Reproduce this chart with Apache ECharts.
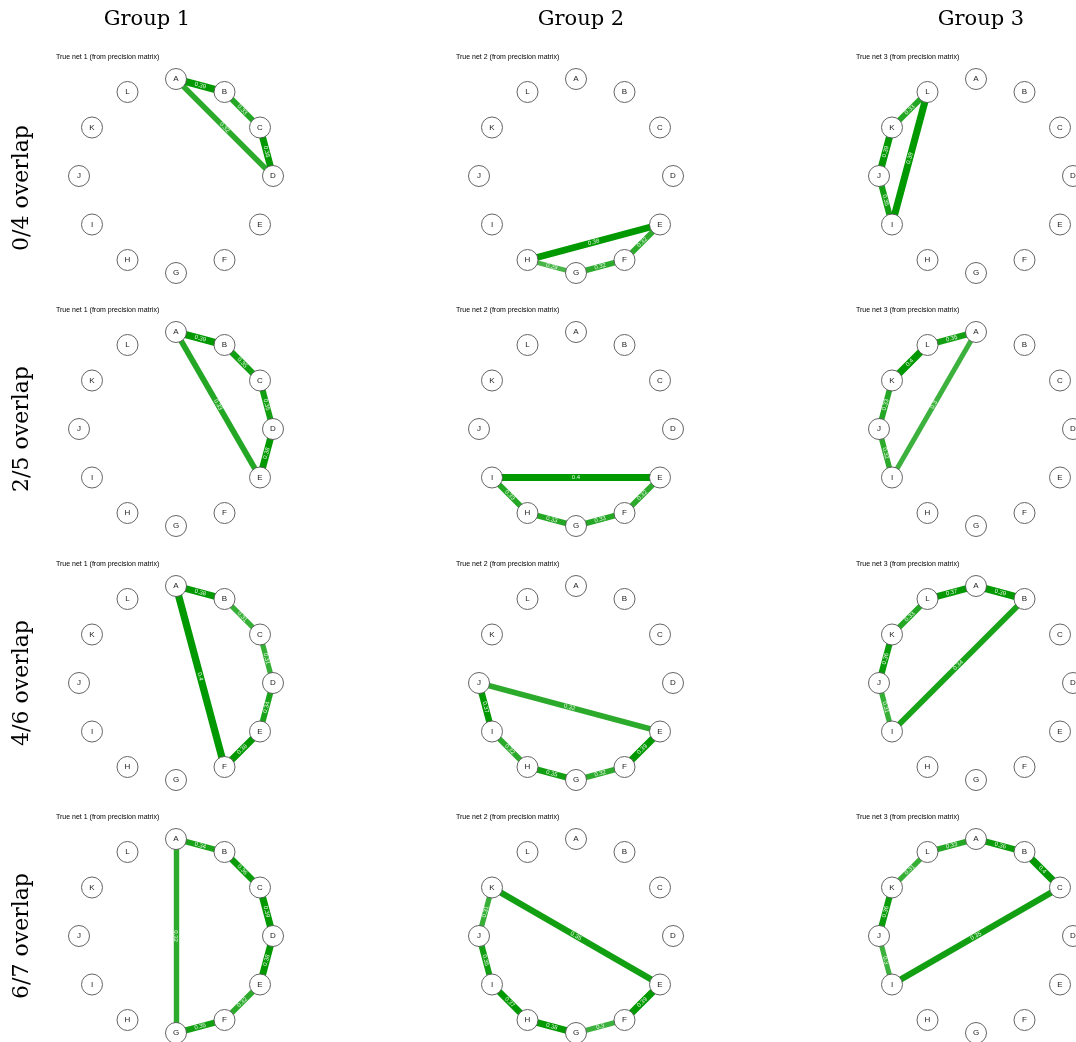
<!DOCTYPE html>
<html>
<head>
<meta charset="utf-8">
<script src="https://cdn.jsdelivr.net/npm/echarts@6/dist/echarts.min.js"></script>
<style>
  html, body { margin: 0; padding: 0; background: #fff; }
  #main { width: 1076px; height: 1042px; }
</style>
</head>
<body>
<div id="main"></div>
<script>
// nodes on the circle, clockwise from the top
const nodes = ['A', 'B', 'C', 'D', 'E', 'F', 'G', 'H', 'I', 'J', 'K', 'L'];
const groups = ['Group 1', 'Group 2', 'Group 3'];
const rows = ['0/4 overlap', '2/5 overlap', '4/6 overlap', '6/7 overlap'];

// edges: [from, to, partial correlation]
const net_0_g1 = [['A','B',0.39], ['B','C',0.33], ['C','D',0.38], ['A','D',0.32]];
const net_0_g2 = [['E','F',0.32], ['F','G',0.32], ['G','H',0.29], ['E','H',0.38]];
const net_0_g3 = [['I','J',0.35], ['J','K',0.39], ['K','L',0.33], ['I','L',0.39]];

const net_2_g1 = [['A','B',0.39], ['B','C',0.35], ['C','D',0.35], ['D','E',0.38], ['A','E',0.33]];
const net_2_g2 = [['E','F',0.32], ['F','G',0.33], ['G','H',0.33], ['H','I',0.33], ['E','I',0.4]];
const net_2_g3 = [['I','J',0.32], ['J','K',0.33], ['K','L',0.4], ['L','A',0.35], ['A','I',0.3]];

const net_4_g1 = [['A','B',0.38], ['B','C',0.31], ['C','D',0.31], ['D','E',0.34], ['E','F',0.38], ['A','F',0.4]];
const net_4_g2 = [['E','F',0.39], ['F','G',0.32], ['G','H',0.35], ['H','I',0.32], ['I','J',0.37], ['E','J',0.32]];
const net_4_g3 = [['I','J',0.31], ['J','K',0.36], ['K','L',0.33], ['L','A',0.37], ['A','B',0.39], ['B','I',0.34]];

const net_6_g1 = [['A','B',0.34], ['B','C',0.36], ['C','D',0.39], ['D','E',0.38], ['E','F',0.32], ['F','G',0.35], ['A','G',0.32]];
const net_6_g2 = [['E','F',0.39], ['F','G',0.3], ['G','H',0.38], ['H','I',0.37], ['I','J',0.35], ['J','K',0.31], ['E','K',0.35]];
const net_6_g3 = [['I','J',0.3], ['J','K',0.36], ['K','L',0.31], ['L','A',0.33], ['A','B',0.36], ['B','C',0.4], ['C','I',0.35]];

const nets = [
  [net_0_g1, net_0_g2, net_0_g3],
  [net_2_g1, net_2_g2, net_2_g3],
  [net_4_g1, net_4_g2, net_4_g3],
  [net_6_g1, net_6_g2, net_6_g3]
];

const colX = [176, 576, 976];
const rowY = [176, 429, 683, 936];
const R = 97;

// stronger edge -> darker and wider, like qgraph
function edgeColor(w) {
  let a = 0.72 + (w - 0.29) * 3.5;
  a = Math.max(0.7, Math.min(1, a));
  return 'rgba(0,153,0,' + a.toFixed(2) + ')';
}
function edgeWidth(w) {
  return 4.8 + (w - 0.29) * 22;
}

const chart = echarts.init(document.getElementById('main'), null, {renderer: 'canvas'});

let polar = [], angleAxis = [], radiusAxis = [], series = [], title = [], graphic = [];

groups.forEach((g, j) => {
  title.push({
    text: g, left: colX[j] - (j === 0 ? 34 : 0), top: 4, textAlign: 'center',
    textStyle: {fontFamily: 'DejaVu Serif', fontWeight: 'normal', fontSize: 21, color: '#000'}
  });
});

rows.forEach((r, i) => {
  graphic.push({
    type: 'text', x: 22, y: rowY[i] + (i === 0 ? 12 : 0), rotation: Math.PI / 2,
    style: {
      text: r, fill: '#000', font: '22px "DejaVu Serif"',
      textAlign: 'center', textVerticalAlign: 'middle'
    }
  });
});

nets.forEach((rowNets, i) => {
  rowNets.forEach((edges, j) => {
    const k = polar.length;
    polar.push({center: [colX[j], rowY[i]], radius: R});
    angleAxis.push({
      polarIndex: k, type: 'category', data: nodes, startAngle: 90, clockwise: true,
      boundaryGap: false, show: false
    });
    radiusAxis.push({polarIndex: k, type: 'value', min: 0, max: 1, show: false});
    title.push({
      text: 'True net ' + (j + 1) + ' (from precision matrix)',
      left: colX[j] - 120, top: rowY[i] - 122, padding: 0,
      textStyle: {fontFamily: 'Liberation Sans', fontWeight: 'normal', fontSize: 7, color: '#000'}
    });
    series.push({
      type: 'graph',
      coordinateSystem: 'polar',
      polarIndex: k,
      silent: true,
      symbol: 'circle',
      symbolSize: 21,
      itemStyle: {color: '#fff', borderColor: '#555', borderWidth: 0.9},
      label: {show: true, position: 'inside', fontSize: 8, color: '#222', fontFamily: 'Liberation Sans'},
      lineStyle: {opacity: 1, curveness: 0},
      edgeLabel: {
        show: true, position: 'insideMiddle', distance: 0, fontSize: 6, color: '#e4f6e4',
        fontFamily: 'Liberation Sans',
        formatter: p => String(p.value)
      },
      data: nodes.map((n, idx) => ({name: n, value: [1, idx]})),
      links: edges.map(e => ({
        source: e[0], target: e[1], value: e[2],
        lineStyle: {color: edgeColor(e[2]), width: edgeWidth(e[2])}
      }))
    });
  });
});

chart.setOption({
  animation: false,
  backgroundColor: '#fff',
  title: title,
  polar: polar,
  angleAxis: angleAxis,
  radiusAxis: radiusAxis,
  graphic: graphic,
  series: series
});
</script>
</body>
</html>
